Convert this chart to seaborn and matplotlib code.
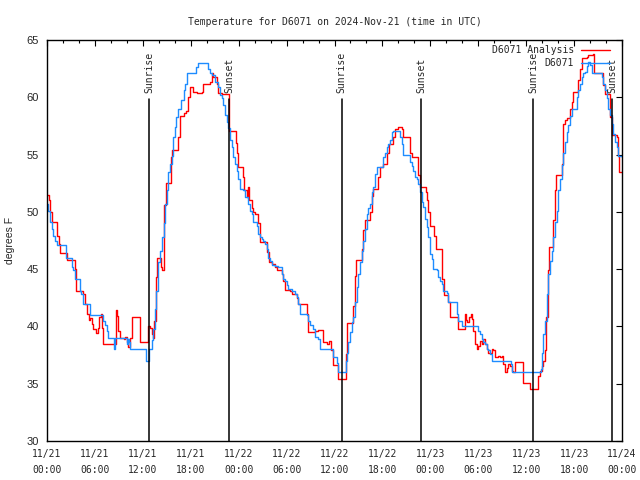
import pandas as pd
import matplotlib
matplotlib.use('Agg')
import matplotlib.pyplot as plt
import matplotlib.dates as mdates
import matplotlib.transforms as mtransforms
import seaborn as sns

# Datos (horas desde 2024-11-21 00:00 UTC, grados F)
start = pd.Timestamp('2024-11-21 00:00')

analysis_hours = [0.0, 0.25, 0.42, 0.63, 1.3, 1.5, 1.63, 2.5, 3.5, 3.63, 4.5, 4.75, 4.97, 5.2, 5.4,
                  5.6, 5.8, 6.1, 6.4, 6.55, 6.7, 6.85, 7.05, 8.6, 8.8, 8.9, 9.1, 9.6, 9.8, 10.0,
                  10.2, 10.4, 10.6, 11.6, 12.7, 12.9, 13.1, 13.3, 13.4, 13.6, 13.73, 14.3, 14.4,
                  14.6, 14.7, 14.86, 15.5, 15.7, 16.4, 16.6, 17.1, 17.4, 17.6, 17.9, 18.33, 18.74,
                  19.37, 19.58, 20.41, 20.62, 20.83, 21.25, 21.46, 21.87, 22.83, 23.63, 23.84,
                  23.96, 24.5, 24.67, 25.0, 25.2, 25.34, 25.63, 25.84, 26.05, 26.47, 26.67, 27.59,
                  27.8, 28.14, 28.55, 28.76, 29.39, 29.6, 29.8, 30.43, 30.64, 31.27, 31.47, 32.52,
                  32.73, 33.56, 33.98, 34.6, 35.02, 35.36, 35.56, 35.77, 36.48, 37.44, 37.55,
                  38.36, 38.57, 38.69, 39.4, 39.53, 39.82, 40.45, 40.65, 40.86, 41.49, 41.7, 42.12,
                  42.53, 42.87, 43.37, 43.58, 44.0, 44.41, 44.62, 45.45, 45.66, 46.5, 46.71, 47.46,
                  47.62, 47.75, 47.96, 48.5, 48.71, 49.5, 49.71, 50.25, 50.46, 51.51, 52.34, 52.47,
                  52.63, 52.88, 53.05, 53.18, 53.38, 53.59, 53.8, 54.01, 54.22, 54.43, 54.64,
                  54.85, 55.05, 55.26, 55.68, 55.89, 56.1, 56.52, 56.72, 56.93, 57.14, 57.35,
                  57.56, 57.77, 57.98, 58.19, 58.39, 58.6, 59.56, 60.48, 61.52, 61.73, 61.94,
                  62.15, 62.36, 62.48, 62.69, 62.82, 63.4, 63.61, 63.74, 64.45, 64.65, 64.86,
                  65.07, 65.49, 65.7, 65.91, 66.53, 66.74, 66.95, 67.58, 67.78, 68.41, 68.54,
                  69.66, 69.87, 70.5, 70.71, 71.33, 71.46, 71.67, 72.0]
analysis_temps = [51.5, 51.0, 50.0, 49.1, 47.9, 47.2, 46.4, 45.8, 45.0, 43.1, 42.8, 42.0, 41.1, 40.6, 40.7,
                  40.2, 39.8, 39.4, 39.9, 40.8, 41.1, 39.9, 38.5, 41.4, 40.9, 39.6, 39.0, 38.9, 39.1, 38.6,
                  38.2, 39.0, 40.8, 38.6, 40.0, 39.9, 39.3, 39.0, 40.5, 44.3, 46.0, 45.2, 44.9,
                  47.8, 50.6, 52.5, 54.8, 55.4, 56.5, 58.4, 58.6, 58.8, 60.0, 60.9, 60.5, 60.4,
                  60.5, 61.2, 61.35, 62.1, 61.8, 61.2, 60.4, 60.3, 57.1, 56.0, 55.1,
                  53.9, 53.0, 51.9, 51.3, 52.2, 51.0, 50.3, 50.0, 49.8, 49.0, 47.4, 46.5,
                  45.6, 45.45, 45.2, 44.9, 44.6, 44.0, 43.2, 43.1, 42.8, 42.5, 42.0, 41.1,
                  39.5, 39.6, 39.7, 38.6, 38.5, 38.75, 37.9, 36.6, 35.4, 37.6, 40.3,
                  41.8, 44.4, 45.8, 46.8, 48.4, 49.25, 50.0, 51.35, 52.0, 53.0, 53.9, 54.2,
                  55.1, 55.9, 56.5, 57.2, 57.4, 57.2, 56.5, 55.1, 54.75, 53.2, 52.2, 51.7,
                  51.0, 50.0, 48.8, 47.9, 46.8, 44.1, 42.7, 42.1, 40.8, 39.8, 41.1, 40.6,
                  40.35, 40.8, 41.1, 40.65, 39.6, 38.5, 38.0, 38.3, 38.75, 38.45, 38.9,
                  38.45, 38.0, 37.7, 38.0, 37.9, 37.3, 37.45, 37.3, 37.45, 36.7, 36.0,
                  36.4, 36.7, 36.55, 36.1, 36.0, 36.9, 35.1, 34.5, 35.7, 36.1, 36.55,
                  37.0, 37.9, 40.8, 44.9, 46.9, 49.25, 51.9, 53.2, 54.2, 57.7, 58.0,
                  58.15, 59.0, 59.6, 60.5, 61.5, 62.5, 63.4, 63.55, 63.7, 63.8, 62.1,
                  61.1, 60.3, 58.3, 56.7, 56.5, 54.9, 53.5, 53.5]

station_hours = [0.0, 0.17, 0.38, 0.58, 0.79, 1.0, 1.2, 2.4, 3.1, 3.3, 3.5, 4.1, 4.3, 4.55, 5.4, 7.0,
                 7.3, 7.5, 7.7, 8.4, 8.5, 10.0, 10.2, 10.3, 10.4, 12.4, 12.8, 13.1, 13.3, 13.5, 13.7,
                 13.9, 14.1, 14.4, 14.6, 14.8, 15.0, 15.2, 15.4, 15.6, 15.8, 16.0, 16.2, 16.4, 16.8,
                 17.1, 17.3, 17.5, 18.7, 18.95, 20.2, 20.41, 20.62, 21.04, 21.46, 21.67, 21.87,
                 22.08, 22.29, 22.5, 22.71, 22.92, 23.13, 23.34, 23.54, 23.75, 23.96, 24.17, 24.59,
                 24.8, 25.21, 25.42, 25.63, 25.84, 26.26, 26.47, 26.67, 26.88, 27.09, 27.3, 27.5,
                 27.72, 27.93, 28.14, 28.55, 28.97, 29.39, 29.6, 29.8, 30.01, 30.22, 30.64, 31.06,
                 31.27, 31.47, 31.68, 32.52, 32.73, 32.94, 33.35, 33.56, 33.98, 34.19, 35.86,
                 36.27, 36.48, 37.44, 37.61, 37.73, 37.94, 38.15, 38.28, 38.57, 38.78, 38.99,
                 39.19, 39.4, 39.61, 39.82, 40.03, 40.24, 40.45, 40.65, 40.86, 41.07, 41.28, 42.12,
                 42.32, 42.53, 42.74, 42.95, 43.16, 43.37, 44.2, 44.41, 44.62, 45.45, 45.66, 45.87,
                 46.08, 46.29, 46.5, 46.71, 46.92, 47.12, 47.33, 47.54, 47.75, 47.96, 48.17, 48.38,
                 48.79, 49.0, 49.21, 49.42, 49.63, 50.05, 50.25, 51.3, 51.51, 51.92, 52.13, 54.01,
                 54.22, 54.43, 54.64, 54.85, 55.05, 55.26, 55.47, 55.68, 58.06, 58.19, 61.82,
                 61.94, 62.15, 62.36, 62.57, 62.78, 62.98, 63.19, 63.4, 63.61, 63.82, 64.03, 64.24,
                 64.45, 64.65, 64.86, 65.07, 65.28, 65.49, 65.7, 66.33, 66.53, 66.74, 66.95, 67.16,
                 67.37, 67.58, 67.78, 67.99, 68.2, 69.45, 69.66, 69.87, 70.08, 70.29, 70.5, 70.71,
                 70.91, 71.12, 71.33, 71.54, 72.0]
station_temps = [50.7, 50.1, 49.1, 48.5, 47.9, 47.5, 47.1, 46.0, 45.2, 44.9, 44.1, 43.1, 42.8, 42.0, 41.0, 40.5,
                 40.1, 39.6, 39.0, 38.0, 39.0, 38.5, 38.9, 38.6, 38.0, 37.0, 38.0, 38.8, 39.8, 41.5, 43.1,
                 45.6, 46.6, 47.8, 49.0, 50.7, 51.9, 53.5, 54.2, 54.9, 56.5, 57.4, 58.3, 59.0, 59.75,
                 60.6, 61.2, 62.1, 62.6, 63.0, 62.5, 62.1, 61.95, 61.35, 60.9, 60.2, 59.9,
                 59.3, 58.45, 57.85, 57.3, 56.25, 55.65, 54.8, 54.2, 53.6, 52.9, 52.0, 51.9,
                 51.3, 50.7, 50.1, 49.85, 49.1, 48.8, 48.1, 47.8, 47.65, 47.5, 47.2, 46.8,
                 46.0, 45.75, 45.4, 45.3, 45.2, 44.6, 44.15, 43.95, 43.6, 43.3, 43.05, 42.85,
                 42.55, 41.95, 41.1, 41.0, 40.5, 40.1, 39.8, 39.05, 38.9, 38.0, 37.3,
                 36.85, 36.0, 37.0, 37.7, 38.6, 39.5, 40.35, 40.8, 42.1, 43.4, 44.6,
                 45.6, 46.6, 47.5, 48.5, 49.8, 50.3, 50.7, 51.7, 52.2, 53.3, 53.9, 54.8,
                 55.1, 55.7, 55.95, 56.25, 57.0, 57.1, 56.5, 55.95, 55.0, 54.35, 54.0, 53.6,
                 53.05, 52.9, 52.45, 51.7, 50.85, 50.4, 49.4, 48.7, 47.8, 46.3, 45.9, 45.0,
                 44.9, 44.3, 44.0, 43.7, 43.1, 42.9, 42.1, 41.1, 40.5, 40.05, 40.0, 39.6,
                 39.3, 38.9, 38.6, 38.45, 38.0, 37.9, 37.6, 37.0, 36.7, 36.0, 36.3,
                 37.7, 39.3, 40.5, 42.8, 44.6, 45.75, 46.6, 47.8, 49.1, 50.1, 51.9, 52.9,
                 54.1, 55.1, 56.1, 57.0, 57.6, 58.4, 59.0, 60.0, 60.6, 61.2, 61.8, 62.1,
                 62.25, 62.7, 63.1, 62.8, 62.1, 61.8, 61.2, 60.6, 59.9, 59.0, 58.45, 57.7,
                 56.8, 56.1, 55.7, 54.9, 54.8]

sunrise_hours = [12.77, 36.88, 60.9]
sunset_hours = [22.83, 46.87, 70.79]
y_ticks = [30, 35, 40, 45, 50, 55, 60, 65]

analysis_times = start + pd.to_timedelta(analysis_hours, unit='h')
station_times = start + pd.to_timedelta(station_hours, unit='h')

sns.set_theme(style='white')
plt.rcParams['font.family'] = ['DejaVu Sans Mono']

fig = plt.figure(figsize=(6.4, 4.8), dpi=100)
ax = fig.add_axes([47 / 640, 39 / 480, 575 / 640, 401 / 480])

sns.lineplot(x=analysis_times, y=analysis_temps, drawstyle='steps-post', color='#ff0000',
             lw=1.0, label='D6071 Analysis', ax=ax)
sns.lineplot(x=station_times, y=station_temps, drawstyle='steps-post', color='#1e8cff',
             lw=1.0, label='D6071', ax=ax)

# Lineas de salida / puesta del sol
trans = mtransforms.blended_transform_factory(ax.transData, ax.transAxes)
for hrs, name in [(sunrise_hours, 'Sunrise'), (sunset_hours, 'Sunset')]:
    for h in hrs:
        t = mdates.date2num(start + pd.Timedelta(hours=h))
        ax.plot([t, t], [0, 0.853], transform=trans, color='black', lw=1.1)
        ax.text(t, 0.868, name, transform=trans, rotation=90, ha='center', va='bottom', fontsize=7)

ax.set_xlim(start, start + pd.Timedelta(hours=72))
ax.set_ylim(30, 65)
ax.set_yticks(y_ticks)
ax.xaxis.set_major_locator(mdates.HourLocator(byhour=[0, 6, 12, 18]))
ax.xaxis.set_minor_locator(mdates.HourLocator(interval=2))
ax.xaxis.set_major_formatter(mdates.DateFormatter('%m/%d\n%H:%M'))

ax.tick_params(axis='both', which='both', direction='in', top=True, right=True,
               color='black', width=0.8)
ax.tick_params(axis='both', which='major', length=4.5)
ax.tick_params(axis='both', which='minor', length=2.5)
ax.tick_params(axis='x', labelsize=7, pad=6)
ax.tick_params(axis='y', labelsize=8, pad=6)

for s in ax.spines.values():
    s.set_color('black')
    s.set_linewidth(1.0)

ax.set_xlabel('')
ax.set_ylabel('degrees F', fontsize=7.5, family='Liberation Sans')
ax.yaxis.set_label_coords(-0.055, 0.5)
ax.set_title('Temperature for D6071 on 2024-Nov-21 (time in UTC)', fontsize=7, pad=11)

ax.legend(loc='upper right', bbox_to_anchor=(0.979, 0.9875), frameon=False, markerfirst=False,
          handlelength=3.0, handletextpad=0.7, labelspacing=0.35, borderpad=0,
          borderaxespad=0, fontsize=7)

fig.canvas.draw()
for lbl in ax.get_yticklabels():
    lbl.set_fontfamily('Liberation Sans')
for lbl in ax.get_xticklabels():
    lbl.set_linespacing(1.75)

fig.savefig('out.png', dpi=100)
